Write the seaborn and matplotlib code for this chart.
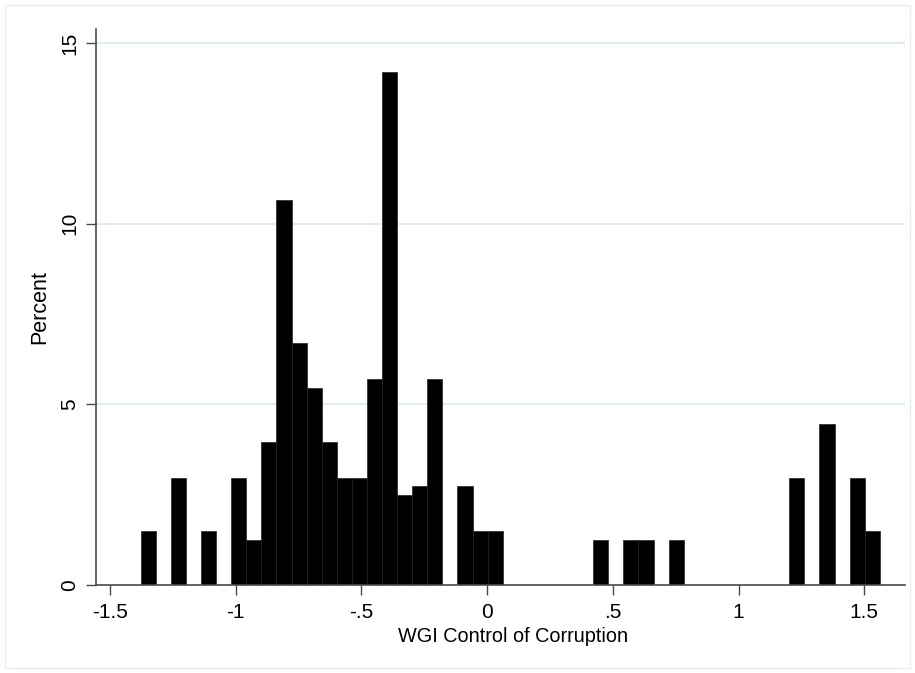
import numpy as np
import pandas as pd
import matplotlib
matplotlib.use("Agg")
import matplotlib.pyplot as plt
import seaborn as sns

# Histogram of WGI Control of Corruption: 49 equal-width bins
bin_start = -1.378
bin_width = 0.060
percent = [
    1.49, 0.00, 2.97, 0.00, 1.49, 0.00, 2.97, 1.24, 3.97, 10.65,
    6.71, 5.45, 3.97, 2.97, 2.97, 5.70, 14.19, 2.48, 2.74, 5.70,
    0.00, 2.74, 1.49, 1.49, 0.00, 0.00, 0.00, 0.00, 0.00, 0.00,
    1.24, 0.00, 1.24, 1.24, 0.00, 1.24, 0.00, 0.00, 0.00, 0.00,
    0.00, 0.00, 0.00, 2.97, 0.00, 4.46, 0.00, 2.97, 1.49,
]
x_ticks = [-1.5, -1.0, -0.5, 0.0, 0.5, 1.0, 1.5]
x_tick_labels = ["-1.5", "-1", "-.5", "0", ".5", "1", "1.5"]
y_ticks = [0, 5, 10, 15]
y_tick_labels = ["0", "5", "10", "15"]

edges = [bin_start + bin_width * i for i in range(len(percent) + 1)]
df = pd.DataFrame({
    "wgi": [(edges[i] + edges[i + 1]) / 2 for i in range(len(percent))],
    "pct": percent,
})

sns.set_theme(style="white")
plt.rcParams["font.family"] = ["Liberation Sans", "DejaVu Sans"]

fig = plt.figure(figsize=(9.15, 6.73), dpi=100)
ax = fig.add_axes([0.1049, 0.1308, 0.989 - 0.1049, 0.957 - 0.1308])

sns.histplot(data=df, x="wgi", weights="pct", bins=edges, stat="count",
             color="black", edgecolor="#222222", linewidth=0.5, alpha=1.0, ax=ax)

ax.set_xlim(-1.556, 1.662)
ax.set_ylim(0, 15.39)

for y in y_ticks[1:]:
    ax.axhline(y, color="#e1ecef", linewidth=1.4, zorder=0)

ax.set_xticks(x_ticks)
ax.set_xticklabels(x_tick_labels)
ax.set_yticks(y_ticks)
ax.set_yticklabels(y_tick_labels, rotation=90, va="center")

spine_color = "#4a4a4a"
for side in ["top", "right"]:
    ax.spines[side].set_visible(False)
for side in ["left", "bottom"]:
    ax.spines[side].set_color(spine_color)
    ax.spines[side].set_linewidth(1.2)

ax.tick_params(axis="both", which="major", direction="out", length=7,
               width=1.0, color=spine_color, labelsize=15, labelcolor="black",
               left=True, bottom=True)
ax.tick_params(axis="x", pad=6)
ax.tick_params(axis="y", pad=5)

ax.set_xlabel("WGI Control of Corruption", fontsize=14.3, color="black")
ax.set_ylabel("Percent", fontsize=15.5, color="black")
ax.xaxis.set_label_coords(0.515, -0.075)
ax.yaxis.set_label_coords(-0.057, 0.5)

# light outer frame around the graph region
fig.patches.append(plt.Rectangle((0.006, 0.008), 0.988, 0.985,
                                 transform=fig.transFigure, fill=False,
                                 edgecolor="#e6eef2", linewidth=1.0))

fig.savefig("out.png", dpi=100, facecolor="white")
